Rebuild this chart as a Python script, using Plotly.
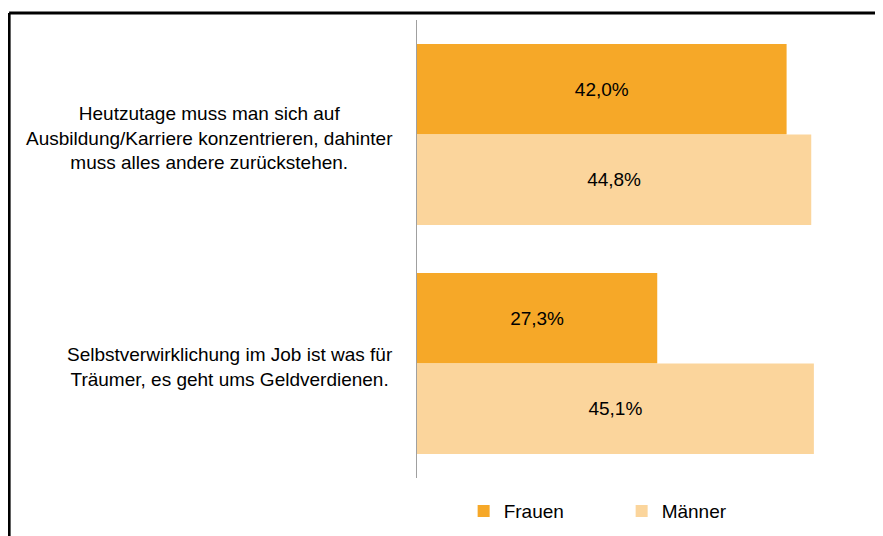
import plotly.graph_objects as go

# data
statements = [
    "Heutzutage muss man sich auf<br>Ausbildung/Karriere konzentrieren, dahinter<br>muss alles andere zurückstehen.",
    "Selbstverwirklichung im Job ist was für<br>Träumer, es geht ums Geldverdienen.",
]
frauen = [42.0, 27.3]
maenner = [44.8, 45.1]

FONT = "Liberation Sans, Arial, sans-serif"

fig = go.Figure()
fig.add_trace(go.Bar(name="Frauen", y=statements, x=frauen, orientation="h",
                     marker=dict(color="#F6A828", line=dict(width=0)),
                     texttemplate="%{x:.1f}%", textposition="inside",
                     insidetextanchor="middle",
                     textfont=dict(color="#000000", size=19)))
fig.add_trace(go.Bar(name="Männer", y=statements, x=maenner, orientation="h",
                     marker=dict(color="#FBD59C", line=dict(width=0)),
                     texttemplate="%{x:.1f}%", textposition="inside",
                     insidetextanchor="middle",
                     textfont=dict(color="#000000", size=19)))

# category labels, centred multi-line text left of the axis
for s in statements:
    fig.add_annotation(x=0, y=s, xref="paper", yref="y", text=s,
                       showarrow=False, xanchor="right", align="center",
                       xshift=-22, yshift=-3, font=dict(size=19, color="#000000"))

# frame (only top and left edge visible in the crop)
fig.add_shape(type="line", xref="paper", yref="paper",
              x0=-0.927, x1=1.2, y0=1.0153, y1=1.0153,
              line=dict(color="#000000", width=3))
fig.add_shape(type="line", xref="paper", yref="paper",
              x0=-0.927, x1=-0.927, y0=1.0153, y1=-0.2,
              line=dict(color="#000000", width=3))

fig.update_layout(
    width=875, height=528,
    margin=dict(l=409, r=26, t=12, b=58, autoexpand=False),
    paper_bgcolor="white", plot_bgcolor="white",
    font=dict(family=FONT, size=19, color="#000000"),
    separators=",.",
    barmode="group", bargap=0.21, bargroupgap=0.0,
    showlegend=True,
    legend=dict(orientation="h", x=0.106, xanchor="left",
                yref="container", y=0.047, yanchor="middle",
                entrywidth=113, font=dict(size=19)),
    xaxis=dict(range=[0, 50], visible=False),
    yaxis=dict(autorange="reversed", showticklabels=False, ticks="",
               showline=True, linecolor="#A0A0A0", linewidth=1,
               showgrid=False, zeroline=False),
)

fig.write_html("out.html")
